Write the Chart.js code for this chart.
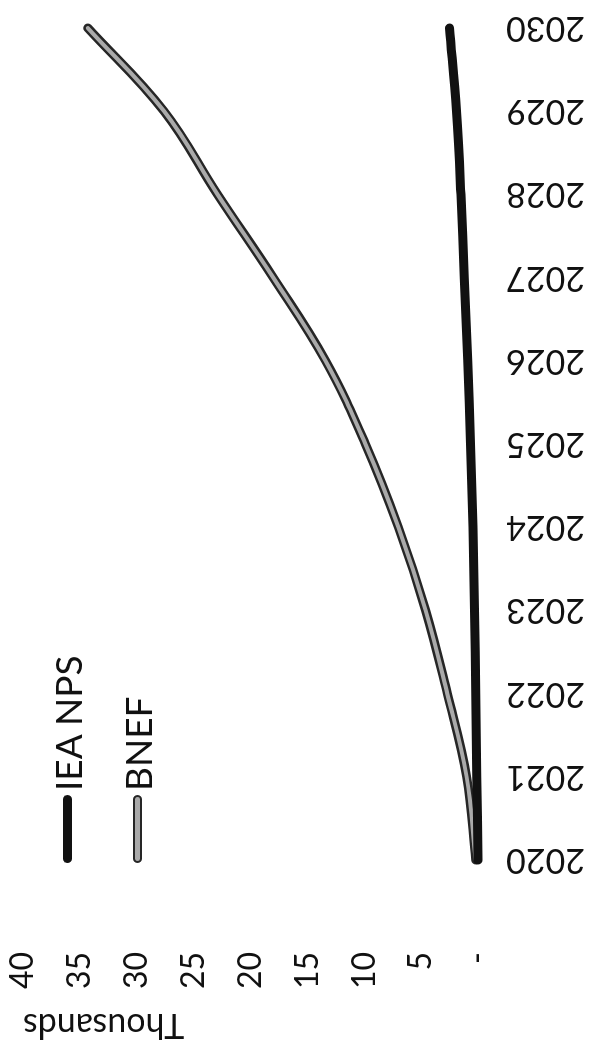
<!DOCTYPE html>
<html>
<head>
<meta charset="utf-8">
<script src="https://cdn.jsdelivr.net/npm/chart.js@4.4.0/dist/chart.umd.min.js"></script>
<style>
  html, body { margin: 0; padding: 0; background: #fff; }
  body { width: 593px; height: 1055px; overflow: hidden; position: relative; }
  /* the chart is drawn landscape and turned a quarter turn counter-clockwise */
  #wrap { position: absolute; left: 0; top: 0; width: 1055px; height: 593px;
          transform-origin: 0 0; transform: translateY(1055px) rotate(-90deg); }
  #legend { position: absolute; left: 192px; top: 47px; font: 37px Lato, sans-serif; color: #111; }
  .item { display: flex; align-items: center; height: 40px; margin-bottom: 30px; }
  .mark { width: 68px; height: 9px; border-radius: 5px; margin-right: 4px; box-sizing: border-box; }
</style>
</head>
<body>
<div id="wrap">
  <canvas id="chart" width="1055" height="593"></canvas>
  <div id="legend"></div>
</div>
<script>
const years = ['2020', '2021', '2022', '2023', '2024', '2025', '2026', '2027', '2028', '2029', '2030'];
const ieaNps = [0, 0.1, 0.2, 0.3, 0.45, 0.65, 0.9, 1.2, 1.5, 1.9, 2.5];
const bnef = [0.2, 1.0, 2.7, 4.6, 7.0, 9.9, 13.4, 18.0, 22.9, 27.6, 34.3];
const seriesNames = ['IEA NPS', 'BNEF'];
const valueMax = 40;
const valueStep = 5;

// second, thinner stroke on top of a line (the grey "hollow" look of BNEF)
const innerStroke = {
  id: 'innerStroke',
  afterDatasetDraw(chart, args) {
    const ds = chart.data.datasets[args.index];
    if (!ds.innerColor) return;
    const ctx = chart.ctx;
    ctx.save();
    ctx.lineWidth = ds.innerWidth;
    ctx.strokeStyle = ds.innerColor;
    ctx.lineCap = 'round';
    ctx.lineJoin = 'round';
    ctx.beginPath();
    args.meta.dataset.path(ctx);
    ctx.stroke();
    ctx.restore();
  }
};

const chart = new Chart(document.getElementById('chart'), {
  type: 'line',
  data: {
    labels: years,
    datasets: [
      { label: seriesNames[0], data: ieaNps, borderColor: '#111111', borderWidth: 9 },
      { label: seriesNames[1], data: bnef, borderColor: '#262626', borderWidth: 9,
        innerColor: '#aaaaaa', innerWidth: 4 }
    ]
  },
  options: {
    responsive: false,
    animation: false,
    devicePixelRatio: 1,
    layout: { autoPadding: false, padding: { left: 10, right: 28, top: 23, bottom: 0 } },
    elements: {
      point: { radius: 0 },
      line: { tension: 0.4, borderCapStyle: 'round', borderJoinStyle: 'round', fill: false }
    },
    datasets: { line: { clip: 20 } },
    plugins: { legend: { display: false }, tooltip: { enabled: false } },
    scales: {
      x: {
        offset: false,
        grid: { display: false },
        border: { display: false },
        ticks: { minRotation: 90, maxRotation: 90, padding: 20, color: '#111',
                 font: { family: 'Lato', size: 34 } },
        // tick padding would otherwise be added to the side padding
        afterFit(s) { s.height = 115; s.paddingLeft = 0; s.paddingRight = 0; }
      },
      y: {
        min: 0,
        max: valueMax,
        grid: { display: false },
        border: { display: false },
        ticks: { stepSize: valueStep, padding: 84, color: '#111',
                 font: { family: 'Lato', size: 32 },
                 callback: v => (v === 0 ? '-' : v) },
        title: { display: true, text: 'Thousands', align: 'end', color: '#111',
                 padding: 0, font: { family: 'Lato', size: 34 } },
        afterFit(s) { s.width = 185; s.paddingTop = 0; s.paddingBottom = 0; }
      }
    }
  },
  plugins: [innerStroke]
});

// legend inside the plot, upper left
const legendEl = document.getElementById('legend');
chart.data.datasets.forEach(ds => {
  const item = document.createElement('div');
  item.className = 'item';
  const mark = document.createElement('span');
  mark.className = 'mark';
  if (ds.innerColor) {
    mark.style.background = ds.innerColor;
    mark.style.border = '2.5px solid ' + ds.borderColor;
  } else {
    mark.style.background = ds.borderColor;
  }
  const txt = document.createElement('span');
  txt.textContent = ds.label;
  item.appendChild(mark);
  item.appendChild(txt);
  legendEl.appendChild(item);
});
</script>
</body>
</html>
